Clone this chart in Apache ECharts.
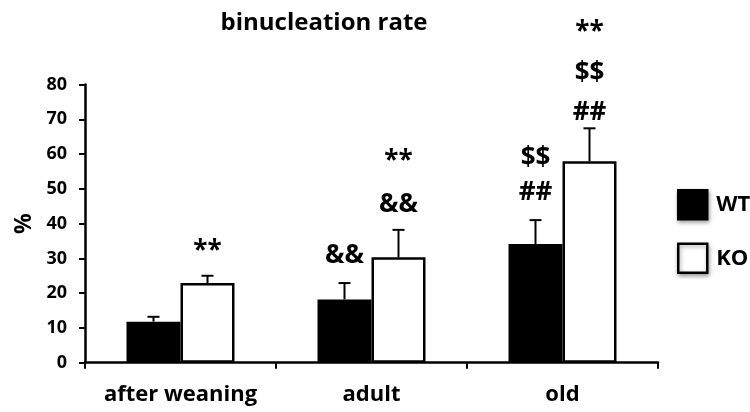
<!DOCTYPE html>
<html><head><meta charset="utf-8">
<script src="https://cdn.jsdelivr.net/npm/echarts@6/dist/echarts.min.js"></script>
<style>html,body{margin:0;padding:0;background:#fff}#c{width:750px;height:412px}</style>
</head><body><div id="c"></div>
<script>
const categories = ['after weaning', 'adult', 'old'];
const seriesNames = ['WT', 'KO'];
const wtValues = [11.8, 18.2, 34.1];
const koValues = [22.9, 30.3, 57.9];
const wtErrors = [1.4, 4.7, 6.9];
const koErrors = [2.1, 7.9, 9.5];
const yTicks = [0, 10, 20, 30, 40, 50, 60, 70, 80];
// significance marks: which series (0 WT, 1 KO), which category, text, level (in % units)
const annotSeries = [1, 0, 1, 1, 0, 0, 1, 1, 1];
const annotCategory = [0, 1, 1, 1, 2, 2, 2, 2, 2];
const annotText = ['**', '&&', '&&', '**', '##', '$$', '##', '$$', '**'];
const annotLevel = [31.9, 30.9, 45.6, 57.7, 49.0, 58.8, 72.0, 83.2, 95.0];

const FONT = 'Open Sans';
const BAR_W = 54;
const CAP = 6;

function errItem(side) {
  return function (params, api) {
    const i = api.value(0), v = api.value(1), e = api.value(2);
    const base = api.coord([i, v]);
    const top = api.coord([i, v + e]);
    const x = base[0] + side * BAR_W / 2;
    return {
      type: 'group', children: [
        { type: 'line', shape: { x1: x, y1: base[1], x2: x, y2: top[1] }, style: { stroke: '#000', lineWidth: 2 } },
        { type: 'line', shape: { x1: x - CAP, y1: top[1], x2: x + CAP, y2: top[1] }, style: { stroke: '#000', lineWidth: 2 } }
      ]
    };
  };
}

const chart = echarts.init(document.getElementById('c'), null, { renderer: 'canvas' });
chart.setOption({
  animation: false,
  backgroundColor: '#fff',
  title: {
    text: 'binucleation rate', left: 319, top: 6, textAlign: 'center',
    textStyle: { fontFamily: FONT, fontWeight: 'bold', fontSize: 24, color: '#000' }
  },
  legend: {
    orient: 'vertical', left: 672, top: 184, itemWidth: 29, itemHeight: 29, itemGap: 22,
    data: seriesNames, icon: 'rect',
    textStyle: { fontFamily: FONT, fontWeight: 'bold', fontSize: 22, color: '#000', padding: [0, 0, 0, 4] },
    itemStyle: { borderWidth: 2.5, shadowBlur: 4, shadowColor: 'rgba(0,0,0,0.35)', shadowOffsetX: 1, shadowOffsetY: 2 }
  },
  grid: { left: 85, right: 92, top: 84.5, bottom: 49.3 },
  xAxis: {
    type: 'category', data: categories,
    axisLine: { lineStyle: { color: '#000', width: 2.5 } },
    axisTick: { show: true, length: 6, lineStyle: { color: '#000', width: 2 } },
    axisLabel: { interval: 0, fontFamily: FONT, fontWeight: 'bold', fontSize: 22, color: '#000', margin: 21 }
  },
  yAxis: {
    type: 'value', min: yTicks[0], max: yTicks[yTicks.length - 1], interval: yTicks[1] - yTicks[0],
    name: '%', nameLocation: 'middle', nameGap: 47, nameRotate: 90,
    nameTextStyle: { fontFamily: FONT, fontWeight: 'bold', fontSize: 23, color: '#000' },
    axisLine: { show: true, lineStyle: { color: '#000', width: 2.5 } },
    axisTick: { show: true, length: 6, lineStyle: { color: '#000', width: 2 } },
    axisLabel: { fontFamily: FONT, fontWeight: 'bold', fontSize: 18, color: '#000', margin: 18 },
    splitLine: { show: false }
  },
  series: [
    { name: 'WT', type: 'bar', data: wtValues, barWidth: BAR_W, barGap: '0%',
      itemStyle: { color: '#000', borderColor: '#000', borderWidth: 2.5 } },
    { name: 'KO', type: 'bar', data: koValues, barWidth: BAR_W, barGap: '0%',
      itemStyle: { color: '#fff', borderColor: '#000', borderWidth: 2.5 } },
    { type: 'custom', renderItem: errItem(-1), data: wtValues.map((v, i) => [i, v, wtErrors[i]]), encode: { x: 0, y: 1 }, z: 5, silent: true },
    { type: 'custom', renderItem: errItem(1), data: koValues.map((v, i) => [i, v, koErrors[i]]), encode: { x: 0, y: 1 }, z: 5, silent: true },
    { type: 'custom', clip: false, silent: true, z: 6,
      data: annotText.map((t, k) => [annotCategory[k], annotLevel[k], annotSeries[k]]),
      encode: { x: 0, y: 1 },
      renderItem: function (params, api) {
        const p = api.coord([api.value(0), api.value(1)]);
        const side = api.value(2) === 0 ? -1 : 1;
        return { type: 'text', x: p[0] + side * BAR_W / 2, y: p[1],
          style: { text: annotText[params.dataIndex], fontFamily: FONT, fontWeight: 'bold', fontSize: 26,
            fill: '#000', align: 'center', verticalAlign: 'middle' } };
      }
    }
  ]
});
</script></body></html>
